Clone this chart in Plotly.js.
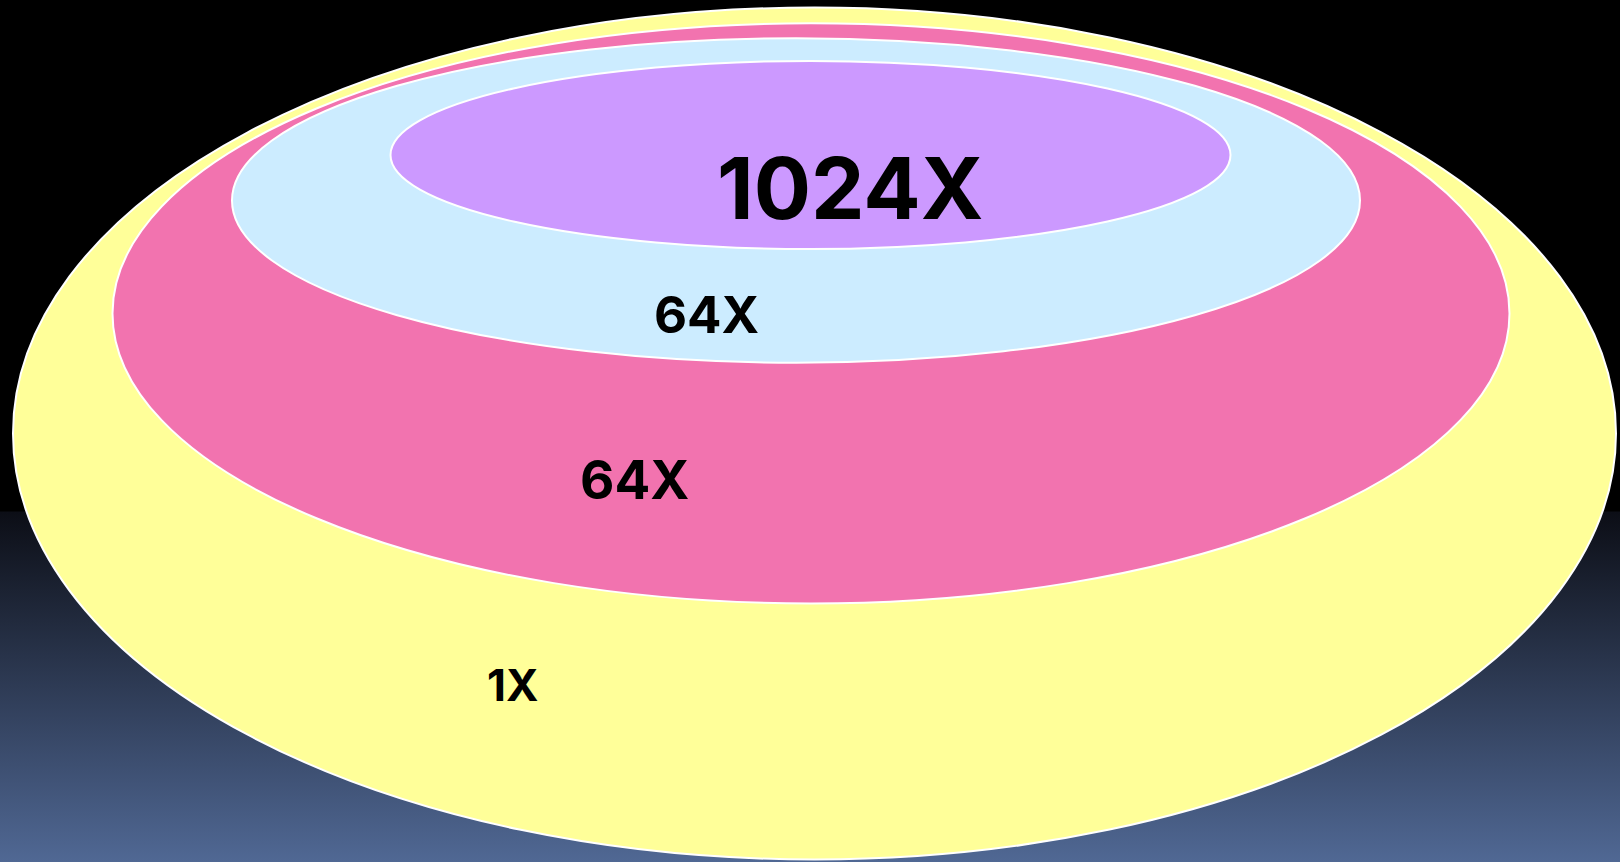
<!DOCTYPE html>
<html>
<head>
<meta charset="utf-8">
<script src="https://cdn.plot.ly/plotly-3.0.1.min.js"></script>
<style>
  html, body { margin: 0; padding: 0; width: 1620px; height: 862px; overflow: hidden; }
  body {
    background: linear-gradient(to bottom,
      #000000 0px, #000000 511px,
      rgb(12,14,22) 512px, rgb(80,104,148) 862px);
  }
  #chart { width: 1620px; height: 862px; }
</style>
</head>
<body>
<div id="chart"></div>
<script>
// Nested ellipse diagram (outer to inner)
const labels      = ['1X', '64X', '64X', '1024X'];
const fillColors  = ['#FFFF99', '#F273AF', '#CCECFF', '#CC99FF'];
// ellipse extents in diagram units
const ellLeft     = [13, 112.5, 232, 390.5];
const ellRight    = [1616, 1509.5, 1360, 1230.5];
const ellTop      = [7.5, 23.3, 38.3, 61];
const ellBottom   = [859.5, 603.5, 362.7, 249];
// label anchor points in diagram units
const labelX      = [512, 634, 706, 850];
const labelY      = [684.5, 479.5, 314.5, 188];
const labelSize   = [44, 53, 51, 85];

const shapes = labels.map((_, i) => ({
  type: 'circle', xref: 'x', yref: 'y',
  x0: ellLeft[i], x1: ellRight[i], y0: ellTop[i], y1: ellBottom[i],
  fillcolor: fillColors[i],
  line: { color: '#FFFFFF', width: 2 },
  layer: 'below'
}));

const annotations = labels.map((t, i) => ({
  x: labelX[i], y: labelY[i], xref: 'x', yref: 'y',
  text: '<b>' + t + '</b>', showarrow: false,
  xanchor: 'center', yanchor: 'middle',
  font: { family: 'Inter, Open Sans, sans-serif', size: labelSize[i], color: '#000000' }
}));

const data = [{ x: [], y: [], type: 'scatter', mode: 'markers', hoverinfo: 'skip', showlegend: false }];

const layout = {
  width: 1620, height: 862,
  margin: { l: 0, r: 0, t: 0, b: 0, pad: 0 },
  paper_bgcolor: 'rgba(0,0,0,0)',
  plot_bgcolor: 'rgba(0,0,0,0)',
  xaxis: { range: [0, 1620], visible: false, fixedrange: true },
  yaxis: { range: [862, 0], visible: false, fixedrange: true },
  shapes: shapes,
  annotations: annotations,
  showlegend: false
};

Plotly.newPlot('chart', data, layout, { displayModeBar: false, staticPlot: true });
</script>
</body>
</html>
